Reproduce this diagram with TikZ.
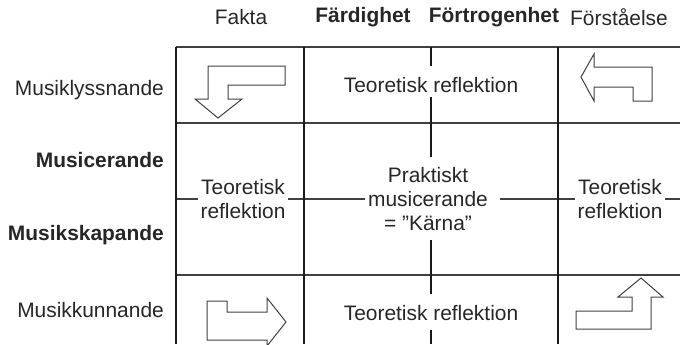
\documentclass[tikz,border=0pt]{standalone}
\usepackage{fontspec}
\setmainfont{Liberation Sans}
\begin{document}
\begin{tikzpicture}[x=1bp,y=-1bp,
  every node/.style={font=\fontsize{21}{24.5}\selectfont, text=black!85},
  bfnode/.style={font=\fontsize{21}{24.5}\selectfont\bfseries},
  hline/.style={draw=black!75, line width=1.4bp},
  vline/.style={draw=black!90, line width=1.6bp},
  arrowshape/.style={draw=black!75, line width=1bp, line join=miter},
  lbl/.style={anchor=east, inner sep=0pt},
  hdr/.style={inner sep=0pt},
  cell/.style={align=center, inner xsep=2.5bp, inner ysep=2bp}]
\useasboundingbox (0,0) rectangle (680,344);
% header
\node[hdr] (fakta) at (241,17) {Fakta};
\node[hdr,bfnode] (fard) at (363,17) {Färdighet};
\node[hdr,bfnode] (fort) at (494,17) {Förtrogenhet};
\node[hdr] (forst) at (619,17) {Förståelse};
% left labels
\node[lbl] (lyss) at (164,90) {Musiklyssnande};
\node[lbl,bfnode] (musc) at (164,160) {Musicerande};
\node[lbl,bfnode] (skap) at (164,235) {Musikskapande};
\node[lbl] (kunn) at (164,310) {Musikkunnande};
% grid coordinates
\coordinate (tl) at (176,47);  \coordinate (tr) at (680,47);
\coordinate (r1l) at (176,123); \coordinate (r1r) at (680,123);
\coordinate (r2l) at (176,275); \coordinate (r2r) at (680,275);
\coordinate (ml) at (176,199); \coordinate (mr) at (680,199);
\coordinate (c0t) at (176,47); \coordinate (c0b) at (176,344);
\coordinate (c1t) at (304,47); \coordinate (c1b) at (304,344);
\coordinate (c3t) at (558,47); \coordinate (c3b) at (558,344);
\coordinate (c2a) at (431,47); \coordinate (c2b) at (431,66);
\coordinate (c2c) at (431,97); \coordinate (c2d) at (431,123);
\coordinate (c2e) at (431,157); \coordinate (c2f) at (431,240);
\coordinate (c2g) at (431,275); \coordinate (c2h) at (431,294);
\coordinate (c2i) at (431,330); \coordinate (c2j) at (431,344);
% cell texts
\node[cell] (topT) at (431,85) {Teoretisk reflektion};
\node[cell] (botT) at (431,313) {Teoretisk reflektion};
\node[cell] (leftT) at (243,199) {Teoretisk\\reflektion};
\node[cell] (midT) at (428,199) {Praktiskt\\musicerande\\= ”Kärna”};
\node[cell] (rightT) at (620,199) {Teoretisk\\reflektion};
% grid lines
\draw[hline] (tl) -- (tr);
\draw[hline] (r1l) -- (r1r);
\draw[hline] (r2l) -- (r2r);
\draw[hline] (ml) -- (leftT.west);
\draw[hline] (leftT.east) -- (midT.west);
\draw[hline, shorten <=9bp] (midT.east) -- (rightT.west);
\draw[hline] (rightT.east) -- (mr);
\draw[vline] (c0t) -- (c0b);
\draw[vline] (c1t) -- (c1b);
\draw[vline] (c3t) -- (c3b);
\draw[vline] (c2a) -- (c2b);
\draw[vline] (c2c) -- (c2d);
\draw[vline] (c2d) -- (c2e);
\draw[vline] (c2f) -- (c2g);
\draw[vline] (c2g) -- (c2h);
\draw[vline] (c2i) -- (c2j);
% arrows
\draw[arrowshape] (208,66) -- (285,66) -- (285,85) -- (228,85) -- (228,99) -- (242,99) -- (218,118) -- (195,99) -- (208,99) -- cycle;
\draw[arrowshape] (581,77) -- (594,54) -- (594,67) -- (652,67) -- (652,101) -- (633,101) -- (633,87) -- (594,87) -- (594,101) -- cycle;
\begin{scope}
\clip (0,0) rectangle (680,344);
\draw[arrowshape] (207,301) -- (227,301) -- (227,312) -- (267,312) -- (267,298) -- (286,322) -- (267,346) -- (267,340) -- (207,340) -- cycle;
\end{scope}
\draw[arrowshape] (641,278) -- (663,297) -- (651,297) -- (651,329) -- (576,329) -- (576,311) -- (632,311) -- (632,297) -- (618,297) -- cycle;
\end{tikzpicture}
\end{document}
